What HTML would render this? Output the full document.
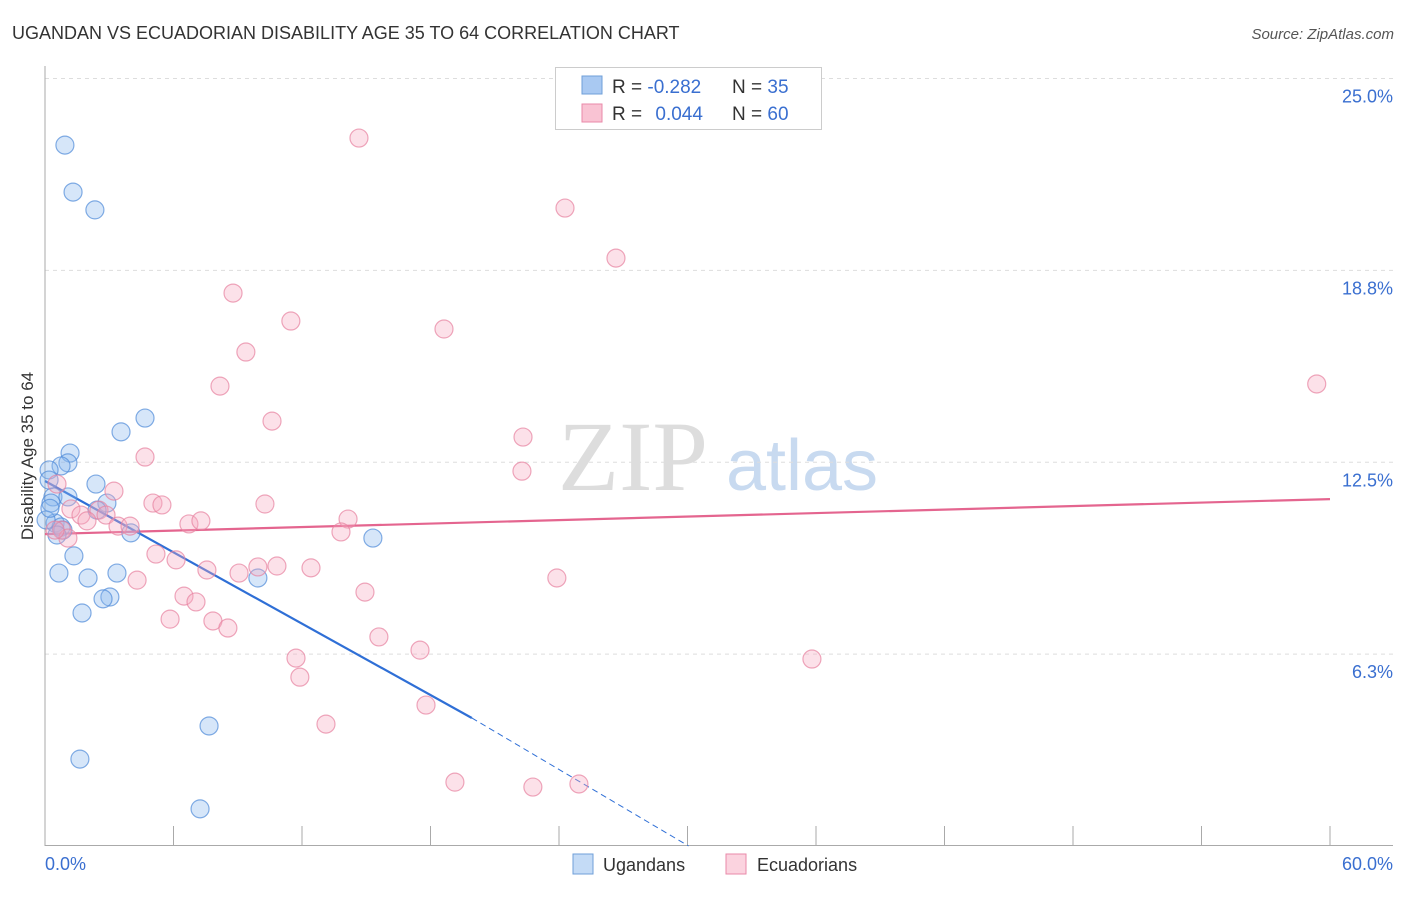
<!DOCTYPE html>
<html><head><meta charset="utf-8"><style>
body{margin:0;background:#fff;font-family:"Liberation Sans",sans-serif;}
</style></head><body>
<svg id="chart" width="1406" height="892" xmlns="http://www.w3.org/2000/svg">
<text x="12" y="39" font-size="18" fill="#333">UGANDAN VS ECUADORIAN DISABILITY AGE 35 TO 64 CORRELATION CHART</text>
<text x="1394" y="39" font-size="15" fill="#555" font-style="italic" text-anchor="end">Source: ZipAtlas.com</text>
<g>
<text x="633" y="490" font-size="100" font-family="Liberation Serif,serif" fill="#ddd" text-anchor="middle">ZIP</text>
<text x="802" y="490" font-size="72" fill="#c8daf0" text-anchor="middle">atlas</text>
</g>
<g id="grid"></g><g id="axes"></g><g id="trends"></g><g id="points"></g>
<text transform="translate(33,456) rotate(-90)" font-size="17" fill="#333" text-anchor="middle">Disability Age 35 to 64</text>
<g>
<rect x="555.5" y="67.5" width="266" height="62" fill="#fff" stroke="#ccc"/>
<rect x="582" y="76" width="20" height="18" fill="#a9c9f2" stroke="#6f9fd8"/>
<rect x="582" y="104" width="20" height="18" fill="#f9c3d3" stroke="#e98aa8"/>
<text x="612" y="93" font-size="19" fill="#333">R = <tspan fill="#3a6fd0">-0.282</tspan><tspan x="732">N = </tspan><tspan fill="#3a6fd0">35</tspan></text>
<text x="612" y="120" font-size="19" fill="#333">R = <tspan fill="#3a6fd0" dx="8">0.044</tspan><tspan x="732">N = </tspan><tspan fill="#3a6fd0">60</tspan></text>
</g>
<g>
<rect x="573" y="854" width="20" height="20" fill="#c4dbf6" stroke="#6f9fd8"/>
<text x="603" y="871" font-size="18" fill="#333">Ugandans</text>
<rect x="726" y="854" width="20" height="20" fill="#fbd3df" stroke="#e98aa8"/>
<text x="757" y="871" font-size="18" fill="#333">Ecuadorians</text>
</g>
</svg>
<script>
const yTicks=[25,18.75,12.5,6.25];
const yTickLabels=["25.0%","18.8%","12.5%","6.3%"];
const xTicks=[0,6,12,18,24,30,36,42,48,54,60];
const xEndLabels=["0.0%","60.0%"];
const blueX=[0.93,1.31,2.33,4.67,3.55,1.17,1.07,0.75,0.19,0.19,2.38,0.37,1.07,0.28,2.89,2.43,0.47,0.75,0.84,0.56,4.01,15.31,1.35,0.65,2.01,3.36,9.94,3.03,2.71,1.73,7.66,1.63,7.24,0.05,0.23];
const blueY=[22.83,21.3,20.72,13.94,13.49,12.8,12.48,12.38,12.25,11.92,11.79,11.37,11.37,11.17,11.17,10.94,10.52,10.39,10.29,10.13,10.2,10.03,9.45,8.89,8.73,8.89,8.73,8.11,8.05,7.59,3.91,2.83,1.21,10.62,11.0];
const pinkX=[14.66,24.28,26.66,8.78,11.48,18.63,9.38,8.17,59.38,10.6,22.32,4.67,22.27,0.56,3.22,5.04,5.46,10.27,1.21,2.52,1.68,2.85,1.96,3.41,3.97,6.72,7.28,14.15,13.82,0.79,1.07,5.18,6.12,7.56,9.06,9.94,10.83,12.42,4.3,23.9,14.94,6.49,7.05,5.84,7.84,8.54,15.59,17.51,11.72,35.81,11.9,13.12,17.79,19.14,22.78,24.93,0.47];
const pinkY=[23.06,20.78,19.15,18.01,17.1,16.84,16.09,14.98,15.05,13.84,13.32,12.67,12.21,11.79,11.56,11.17,11.11,11.14,10.98,10.94,10.78,10.78,10.59,10.42,10.42,10.49,10.59,10.65,10.23,10.29,10.03,9.51,9.32,8.99,8.89,9.09,9.12,9.06,8.66,8.73,8.27,8.14,7.95,7.39,7.33,7.1,6.81,6.38,6.12,6.09,5.5,3.97,4.59,2.08,1.92,2.02,10.29];
const blueTrend=[0,11.89,19.93,4.17,30.05,0];
const pinkTrend=[0,10.16,60,11.3];
const NS="http://www.w3.org/2000/svg";
const X=v=>45+v*(1285/60), Y=v=>846-v*30.7;
function mk(parent,tag,attrs){const e=document.createElementNS(NS,tag);for(const k in attrs)e.setAttribute(k,attrs[k]);document.getElementById(parent).appendChild(e);return e;}
yTicks.forEach((t,i)=>{
 const l=mk('grid','line',{x1:45,x2:1393,y1:Y(t),y2:Y(t),stroke:'#ddd','stroke-dasharray':'4,4'});
 
 
 const tx=mk('grid','text',{x:1393,y:Y(t)+24,'font-size':18,fill:'#3a6fd0','text-anchor':'end'});
 tx.textContent=yTickLabels[i];
 
 
});
let a=mk('axes','line',{x1:45,x2:45,y1:66,y2:846,stroke:'#aaa'});


a=mk('axes','line',{x1:45,x2:1393,y1:845.5,y2:845.5,stroke:'#aaa'});


xTicks.forEach(t=>{const l=mk('axes','line',{x1:X(t),x2:X(t),y1:826,y2:846,stroke:'#aaa'});
 
 });
let t0=mk('axes','text',{x:45,y:870,'font-size':18,fill:'#3a6fd0'});t0.textContent=xEndLabels[0];


let t1=mk('axes','text',{x:1393,y:870,'font-size':18,fill:'#3a6fd0','text-anchor':'end'});t1.textContent=xEndLabels[1];


function dot(x,y,fill,stroke,name){const c=mk('points','circle',{cx:X(x),cy:Y(y),r:9,fill:fill,'fill-opacity':0.35,stroke:stroke,'stroke-opacity':0.7,'stroke-width':1.2});
 
 }
blueX.forEach((x,i)=>dot(x,blueY[i],'#8ab6ee','#4f8ad8','ugandan-point'));
pinkX.forEach((x,i)=>dot(x,pinkY[i],'#f6aac1','#e7819f','ecuadorian-point'));
let bl=mk('trends','line',{x1:X(blueTrend[0]),y1:Y(blueTrend[1]),x2:X(blueTrend[2]),y2:Y(blueTrend[3]),stroke:'#2f6fd6','stroke-width':2.2});


let bd=mk('trends','line',{x1:X(blueTrend[2]),y1:Y(blueTrend[3]),x2:X(blueTrend[4]),y2:Y(blueTrend[5]),stroke:'#2f6fd6','stroke-width':1,'stroke-dasharray':'6,4'});


let pl=mk('trends','line',{x1:X(pinkTrend[0]),y1:Y(pinkTrend[1]),x2:X(pinkTrend[2]),y2:Y(pinkTrend[3]),stroke:'#e4658f','stroke-width':2.2});


</script>
</body></html>
